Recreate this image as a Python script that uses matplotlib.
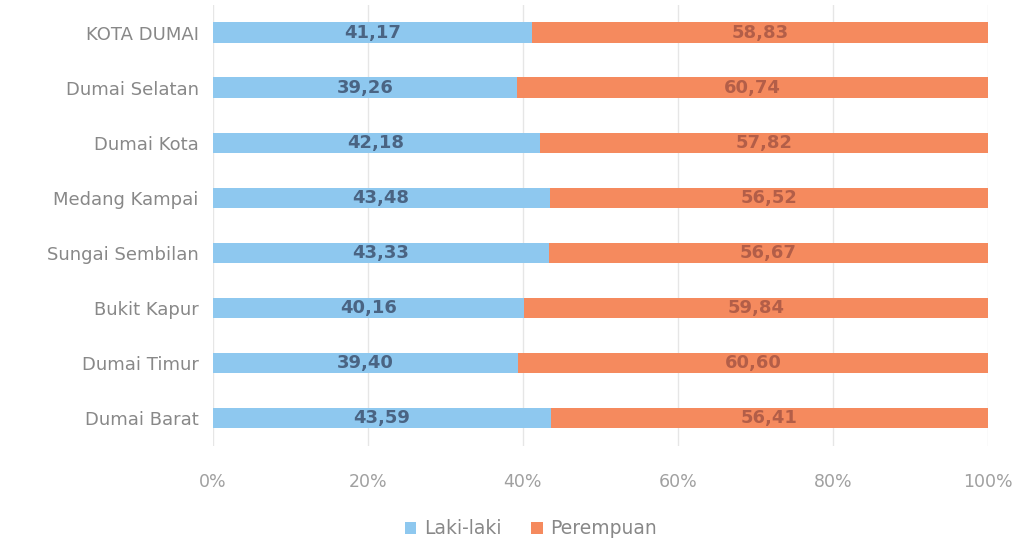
import matplotlib.pyplot as plt

districts = ["KOTA DUMAI", "Dumai Selatan", "Dumai Kota", "Medang Kampai",
             "Sungai Sembilan", "Bukit Kapur", "Dumai Timur", "Dumai Barat"]
laki = [41.17, 39.26, 42.18, 43.48, 43.33, 40.16, 39.40, 43.59]
perempuan = [58.83, 60.74, 57.82, 56.52, 56.67, 59.84, 60.60, 56.41]
xticks = [0, 20, 40, 60, 80, 100]

plt.rcParams['font.family'] = ['DejaVu Sans']

fig = plt.figure(figsize=(10.27, 5.42), dpi=100)
ax = fig.add_axes([0.207, 0.178, 0.755, 0.812])

y = list(range(len(districts)))
blue = "#8ec8ef"
orange = "#f58a5e"
h = 0.38
b1 = ax.barh(y, laki, height=h, color=blue, label="Laki-laki", zorder=3)
b2 = ax.barh(y, perempuan, left=laki, height=h, color=orange, label="Perempuan", zorder=3)

fmt = lambda v: f"{v:.2f}".replace(".", ",")
for yi, l, p in zip(y, laki, perempuan):
    ax.text(l / 2, yi, fmt(l), ha="center", va="center", fontsize=13,
            fontweight="bold", color="#4a6483", zorder=4)
    ax.text(l + p / 2, yi, fmt(p), ha="center", va="center", fontsize=13,
            fontweight="bold", color="#b35e48", zorder=4)

ax.set_xlim(0, 100)
ax.set_ylim(len(districts) - 0.5, -0.5)
ax.set_yticks(y)
ax.set_yticklabels(districts, fontsize=13, color="#888888")
ax.set_xticks(xticks)
ax.set_xticklabels([f"{t}%" for t in xticks], fontsize=12.5, color="#a0a0a0")
ax.tick_params(axis="both", length=0)
ax.tick_params(axis="x", pad=20)
ax.tick_params(axis="y", pad=10)
for s in ax.spines.values():
    s.set_visible(False)
ax.grid(axis="x", color="#e6e6e6", linewidth=1, zorder=0)

leg = fig.legend(handles=[b1, b2], loc="center", bbox_to_anchor=(0.517, 0.024),
                 ncol=2, frameon=False, fontsize=13.5, handlelength=0.6,
                 handleheight=0.6, handletextpad=0.4, columnspacing=1.6)
for t in leg.get_texts():
    t.set_color("#888888")

fig.savefig("out.png", dpi=100)
